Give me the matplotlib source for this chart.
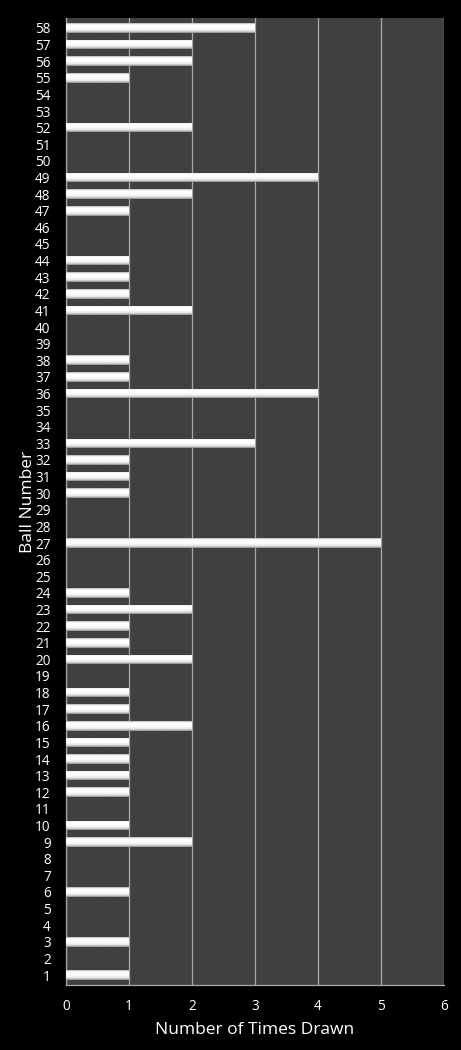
import matplotlib
matplotlib.use("Agg")
import matplotlib.pyplot as plt
import numpy as np

balls = list(range(1, 59))
times_drawn = [1, 0, 1, 0, 0, 1, 0, 0, 2, 1,
               0, 1, 1, 1, 1, 2, 1, 1, 0, 2,
               1, 1, 2, 1, 0, 0, 5, 0, 0, 1,
               1, 1, 3, 0, 0, 4, 1, 1, 0, 0,
               2, 1, 1, 1, 0, 0, 1, 2, 4, 0,
               0, 2, 0, 0, 1, 2, 2, 3]
x_ticks = [0, 1, 2, 3, 4, 5, 6]

plt.rcParams['font.family'] = ['Open Sans', 'DejaVu Sans']

fig = plt.figure(figsize=(4.61, 10.5), dpi=100, facecolor='black')
ax = fig.add_axes([0.1432, 0.0619, 0.9631 - 0.1432, 0.9829 - 0.0619])
ax.set_facecolor('#404040')

bars = ax.barh(balls, times_drawn, height=0.58, color='#e0e0e0', zorder=3)

# vertical gradient inside each bar (top row first)
grad = np.array([0.78, 0.95, 1.0, 1.0, 1.0, 0.98, 0.95, 0.9, 0.8, 0.62]).reshape(-1, 1)
for b in bars:
    w = b.get_width()
    if w <= 0:
        continue
    x0, y0, h = b.get_x(), b.get_y(), b.get_height()
    im = ax.imshow(grad, cmap='gray', vmin=0, vmax=1, aspect='auto',
                   extent=(x0, x0 + w, y0, y0 + h), origin='upper',
                   interpolation='bilinear', zorder=4)
    im.set_clip_path(b)

ax.set_xlim(0, 6)
ax.set_ylim(0.4, 58.6)
ax.set_xticks(x_ticks)
ax.set_yticks(balls)
ax.set_yticklabels([str(b) for b in balls])
ax.xaxis.grid(True, color='#a8a8a8', linewidth=0.9, zorder=1)
ax.set_axisbelow(True)

ax.tick_params(axis='both', colors='white', labelsize=9.8, length=0, pad=11)
ax.tick_params(axis='x', pad=10)
for lbl in ax.get_xticklabels() + ax.get_yticklabels():
    lbl.set_color('white')

for side in ['top', 'right']:
    ax.spines[side].set_visible(False)
for side in ['left', 'bottom']:
    ax.spines[side].set_color('#a8a8a8')
    ax.spines[side].set_linewidth(0.9)

ax.set_xlabel('Number of Times Drawn', color='white', fontsize=12.5, labelpad=6)
ax.set_ylabel('Ball Number', color='white', fontsize=12.5, labelpad=-1)

fig.savefig('out.png', dpi=100, facecolor='black')
